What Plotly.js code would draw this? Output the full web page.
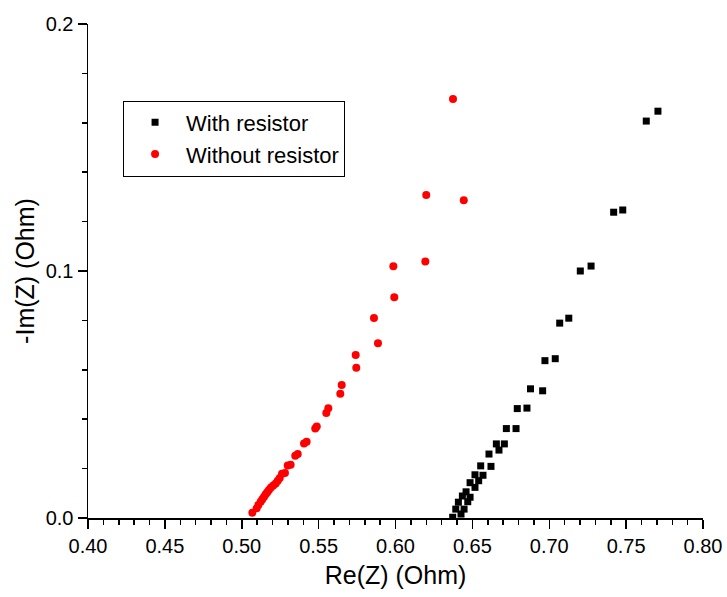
<!DOCTYPE html>
<html>
<head>
<meta charset="utf-8">
<script src="https://cdn.plot.ly/plotly-3.0.1.min.js"></script>
<style>html,body{margin:0;padding:0;background:#fff;}#chart{width:727px;height:597px;}</style>
</head>
<body>
<div id="chart"></div>
<script>
// With resistor (black squares)
var withX = [0.7707, 0.7631, 0.7478, 0.7419, 0.7272, 0.7202, 0.7127, 0.7068, 0.7039, 0.6972,
             0.6957, 0.6878, 0.6855, 0.6792, 0.6784, 0.6721, 0.6708, 0.6656, 0.6673, 0.6621,
             0.6608, 0.6554, 0.6569, 0.6517, 0.6541, 0.6485, 0.6517, 0.6459, 0.6485, 0.6435,
             0.6470, 0.6409, 0.6446, 0.6392, 0.6426, 0.6372];
var withY = [0.1647, 0.1607, 0.1247, 0.1238, 0.1020, 0.1000, 0.0809, 0.0789, 0.0645, 0.0637,
             0.0515, 0.0523, 0.0445, 0.0443, 0.0362, 0.0362, 0.0300, 0.0300, 0.0275, 0.0209,
             0.0259, 0.0211, 0.0173, 0.0175, 0.0151, 0.0143, 0.0124, 0.0106, 0.0084, 0.0089,
             0.0066, 0.0064, 0.0036, 0.0036, 0.0016, 0.0003];

// Without resistor (red circles)
var withoutX = [0.5069, 0.5097, 0.5108, 0.5123, 0.5134, 0.5145, 0.5156, 0.5166, 0.5177, 0.5190,
                0.5205, 0.5221, 0.5234, 0.5247, 0.5262, 0.5281, 0.5299, 0.5318, 0.5348, 0.5364,
                0.5405, 0.5422, 0.5478, 0.5488, 0.5550, 0.5563, 0.5641, 0.5650, 0.5745, 0.5741,
                0.5886, 0.5860, 0.5992, 0.5986, 0.6194, 0.6200, 0.6444, 0.6374];
var withoutY = [0.0021, 0.0039, 0.0053, 0.0066, 0.0076, 0.0086, 0.0096, 0.0104, 0.0113, 0.0123,
                0.0132, 0.0140, 0.0151, 0.0162, 0.0179, 0.0182, 0.0213, 0.0216, 0.0252, 0.0259,
                0.0302, 0.0309, 0.0362, 0.0370, 0.0425, 0.0444, 0.0503, 0.0538, 0.0608, 0.0660,
                0.0707, 0.0810, 0.0894, 0.1019, 0.1038, 0.1308, 0.1286, 0.1696];

var seriesNames = ['With resistor', 'Without resistor'];
var xTitle = 'Re(Z) (Ohm)';
var yTitle = '-Im(Z) (Ohm)';

var font = 'Liberation Sans, Arial, sans-serif';

var traces = [
  {x: withX, y: withY, name: seriesNames[0], type: 'scatter', mode: 'markers',
   marker: {symbol: 'square', size: 7, color: '#000000'}},
  {x: withoutX, y: withoutY, name: seriesNames[1], type: 'scatter', mode: 'markers',
   marker: {symbol: 'circle', size: 8, color: '#ff0000'}}
];

var layout = {
  width: 727, height: 597,
  margin: {l: 88, r: 24, t: 24, b: 79},
  paper_bgcolor: '#fff', plot_bgcolor: '#fff',
  font: {family: font, color: '#000', size: 20},
  showlegend: true,
  legend: {x: 0.057, y: 0.845, xanchor: 'left', yanchor: 'top',
           bordercolor: '#000', borderwidth: 1, bgcolor: '#fff',
           font: {family: font, size: 22, color: '#000'}, itemwidth: 52},
  xaxis: {
    range: [0.4, 0.8], dtick: 0.05, tick0: 0.4, tickformat: '.2f',
    showgrid: false, zeroline: false, showline: true, linecolor: '#000', linewidth: 1.5,
    ticks: 'outside', ticklen: 9, tickwidth: 1.5, tickcolor: '#000',
    minor: {dtick: 0.01, ticks: 'outside', ticklen: 5, tickwidth: 1.5, tickcolor: '#000', showgrid: false},
    tickfont: {family: font, size: 20, color: '#000'},
    title: {text: xTitle, font: {family: font, size: 25, color: '#000'}, standoff: 11}
  },
  yaxis: {
    range: [0, 0.2], dtick: 0.1, tick0: 0, tickformat: '.1f',
    showgrid: false, zeroline: false, showline: true, linecolor: '#000', linewidth: 1.5,
    ticks: 'outside', ticklen: 9, tickwidth: 1.5, tickcolor: '#000',
    minor: {dtick: 0.02, ticks: 'outside', ticklen: 5, tickwidth: 1.5, tickcolor: '#000', showgrid: false},
    tickfont: {family: font, size: 20, color: '#000'},
    title: {text: yTitle, font: {family: font, size: 25, color: '#000'}, standoff: 4}
  }
};

Plotly.newPlot('chart', traces, layout, {displayModeBar: false, staticPlot: true});
</script>
</body>
</html>
